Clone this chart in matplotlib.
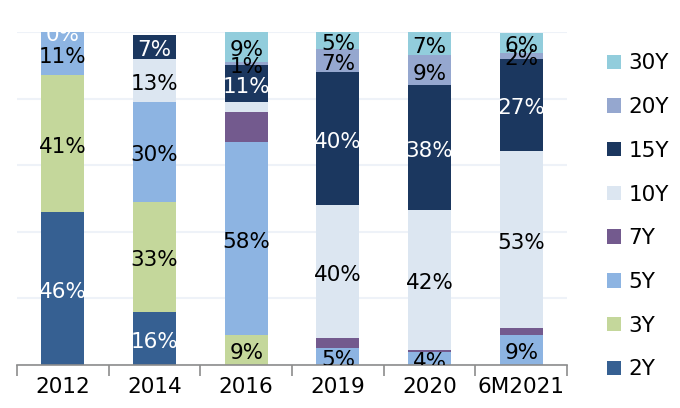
#!/usr/bin/env python3
"""
Maturity breakdown of issuance by year, 100% stacked bars.
"""

import matplotlib
matplotlib.use("Agg")
import matplotlib.pyplot as plt
from matplotlib.patches import Patch
import numpy as np

years = ['2012', '2014', '2016', '2019', '2020', '6M2021']
tenors = ['2Y', '3Y', '5Y', '7Y', '10Y', '15Y', '20Y', '30Y']

# share of issuance (%) per tenor
y2 = [46, 16, 0, 0, 0, 0]
y3 = [41, 33, 9, 0, 0, 0]
y5 = [13, 30, 58, 5, 4, 9]
y7 = [0, 0, 9, 3, 0.5, 2]
y10 = [0, 13, 3, 40, 42, 53.4]
y15 = [0, 7, 11, 40, 37.5, 27.4]
y20 = [0, 0, 1, 7, 9, 2]
y30 = [0, 0, 9, 5, 7, 6]

# data labels as printed on the chart ('' = no label)
lab2 = ['46%', '16%', '', '', '', '']
lab3 = ['41%', '33%', '9%', '', '', '']
lab5 = ['11%', '30%', '58%', '5%', '4%', '9%']
lab7 = ['', '', '', '', '', '']
lab10 = ['', '13%', '', '40%', '42%', '53%']
lab15 = ['0%', '7%', '11%', '40%', '38%', '27%']
lab20 = ['', '', '1%', '7%', '9%', '2%']
lab30 = ['', '', '9%', '5%', '7%', '6%']

colors = ['#366092', '#C4D79B', '#8DB4E2', '#735A8E',
          '#DCE6F1', '#1B375F', '#95A7CF', '#92CDDC']
text_colors = ['white', 'black', 'black', 'black',
               'black', 'white', 'black', 'black']

series = [y2, y3, y5, y7, y10, y15, y20, y30]
labels = [lab2, lab3, lab5, lab7, lab10, lab15, lab20, lab30]

FS = 15.5

fig = plt.figure(figsize=(6.8, 4.08), dpi=100)
ax = fig.add_axes([0.025, 0.1054, 0.809, 0.8162])

x = np.arange(len(years))
bottom = np.zeros(len(years))
for vals, labs, col, tcol in zip(series, labels, colors, text_colors):
    vals = np.array(vals, dtype=float)
    ax.bar(x, vals, width=0.47, bottom=bottom, color=col, zorder=2)
    for i, lab in enumerate(labs):
        if lab:
            ax.text(x[i], bottom[i] + vals[i] / 2 - 1.0, lab, ha='center', va='center',
                    fontsize=FS, color=tcol, zorder=3, clip_on=True)
    bottom += vals

ax.set_xlim(-0.5, len(years) - 0.5)
ax.set_ylim(0, 100)
ax.set_yticks(np.arange(0, 101, 20))
ax.yaxis.grid(True, color='#EEF2F8', linewidth=1.5, zorder=0)
ax.tick_params(axis='y', left=False, labelleft=False)

for s in ['top', 'right', 'left']:
    ax.spines[s].set_visible(False)
ax.spines['bottom'].set_color('#8C8C8C')
ax.spines['bottom'].set_linewidth(1.2)

ax.set_xticks(x)
ax.set_xticklabels(years, fontsize=FS)
ax.tick_params(axis='x', which='major', length=0, pad=9)
ax.set_xticks(np.arange(-0.5, len(years), 1), minor=True)
ax.tick_params(axis='x', which='minor', length=8, width=1.2, color='#8C8C8C')

handles = [Patch(facecolor=c, edgecolor='none') for c in colors]
fig.legend(handles[::-1], tenors[::-1], loc='upper left', bbox_to_anchor=(0.88, 0.89),
           frameon=False, fontsize=FS, handlelength=0.65, handleheight=0.65,
           handletextpad=0.35, labelspacing=1.1, borderaxespad=0)

fig.savefig('out.png', dpi=100)
